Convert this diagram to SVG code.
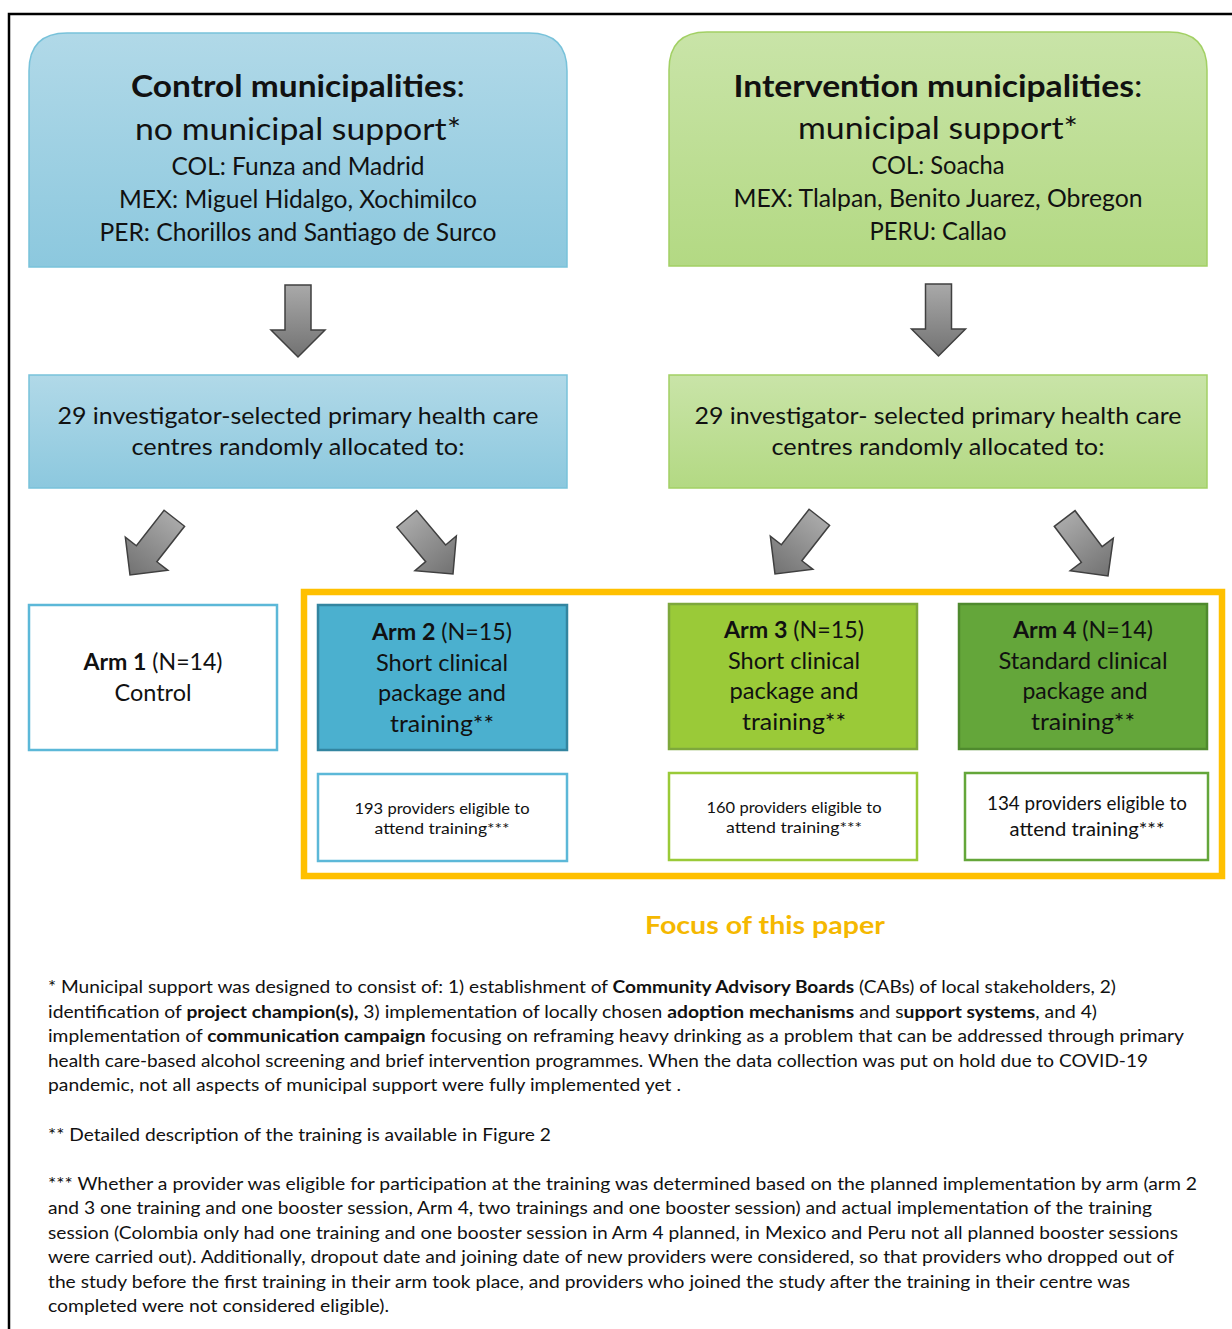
<svg xmlns="http://www.w3.org/2000/svg" width="1232" height="1329" viewBox="0 0 1232 1329">
<style>
text{font-family:Lato,"Open Sans","Liberation Sans",sans-serif;fill:#111}
.t{font-size:30px;text-anchor:middle}
.s{font-size:25px;text-anchor:middle}
.m{font-size:24px;text-anchor:middle}
.a{font-size:23px;text-anchor:middle}
.p{font-size:16px;text-anchor:middle}
.p4{font-size:18.5px;text-anchor:middle}
.fn{font-size:16.5px}
.b{font-weight:bold}
.arrow{fill:url(#ag);stroke:#404040;stroke-width:1.5;stroke-linejoin:miter}
</style>
<defs>
<linearGradient id="bg" x1="0" y1="0" x2="0" y2="1"><stop offset="0" stop-color="#b1d9e8"/><stop offset="1" stop-color="#8cc8de"/></linearGradient>
<linearGradient id="gg" x1="0" y1="0" x2="0" y2="1"><stop offset="0" stop-color="#c9e4a8"/><stop offset="1" stop-color="#b3d983"/></linearGradient>
<linearGradient id="ag" x1="0" y1="0" x2="0" y2="1"><stop offset="0" stop-color="#a9a9a9"/><stop offset="1" stop-color="#727272"/></linearGradient>
<polygon id="arr" class="arrow" points="-13,-72 13,-72 13,-27 27,-27 0,0 -27,-27 -13,-27"/>
</defs>
<rect width="1232" height="1329" fill="#fff"/>
<path d="M9,1329 V14 H1232" fill="none" stroke="#000" stroke-width="2.5"/>

<g id="control-municipalities">
<path d="M29,267 V71 Q29,33 67,33 H529 Q567,33 567,71 V267 Z" fill="url(#bg)" stroke="#78c2da" stroke-width="1.5"/>
<text class="t" x="298" y="97" textLength="334" lengthAdjust="spacingAndGlyphs"><tspan class="b">Control municipalities</tspan>:</text>
<text class="t" x="298" y="140" textLength="326" lengthAdjust="spacingAndGlyphs">no municipal support*</text>
<text class="s" x="298" y="175" textLength="253" lengthAdjust="spacingAndGlyphs">COL: Funza and Madrid</text>
<text class="s" x="298" y="208" textLength="358" lengthAdjust="spacingAndGlyphs">MEX: Miguel Hidalgo, Xochimilco</text>
<text class="s" x="298" y="241" textLength="397" lengthAdjust="spacingAndGlyphs">PER: Chorillos and Santiago de Surco</text>
</g>

<g id="intervention-municipalities">
<path d="M669,266 V70 Q669,32 707,32 H1169 Q1207,32 1207,70 V266 Z" fill="url(#gg)" stroke="#a2d064" stroke-width="1.5"/>
<text class="t" x="938" y="97" textLength="409" lengthAdjust="spacingAndGlyphs"><tspan class="b">Intervention municipalities</tspan>:</text>
<text class="t" x="938" y="139" textLength="280" lengthAdjust="spacingAndGlyphs">municipal support*</text>
<text class="s" x="938" y="174" textLength="133" lengthAdjust="spacingAndGlyphs">COL: Soacha</text>
<text class="s" x="938" y="207" textLength="409" lengthAdjust="spacingAndGlyphs">MEX: Tlalpan, Benito Juarez, Obregon</text>
<text class="s" x="938" y="240" textLength="137" lengthAdjust="spacingAndGlyphs">PERU: Callao</text>
</g>

<g id="control-centres">
<rect x="29" y="375" width="538" height="113" fill="url(#bg)" stroke="#78c2da" stroke-width="1.5"/>
<text class="m" x="298" y="424" textLength="481" lengthAdjust="spacingAndGlyphs">29 investigator-selected primary health care</text>
<text class="m" x="298" y="455" textLength="333" lengthAdjust="spacingAndGlyphs">centres randomly allocated to:</text>
</g>

<g id="intervention-centres">
<rect x="669" y="375" width="538" height="113" fill="url(#gg)" stroke="#a2d064" stroke-width="1.5"/>
<text class="m" x="938" y="424" textLength="487" lengthAdjust="spacingAndGlyphs">29 investigator- selected primary health care</text>
<text class="m" x="938" y="455" textLength="333" lengthAdjust="spacingAndGlyphs">centres randomly allocated to:</text>
</g>

<g id="connectors">
<use href="#arr" transform="translate(298,357)"/>
<use href="#arr" transform="translate(938.5,356)"/>
<use href="#arr" transform="translate(130,575) rotate(38)"/>
<use href="#arr" transform="translate(453,574) rotate(-40)"/>
<use href="#arr" transform="translate(775,574) rotate(38)"/>
<use href="#arr" transform="translate(1108,576) rotate(-37)"/>
</g>

<g id="focus-frame">
<rect x="304" y="592" width="918" height="284" fill="none" stroke="#ffc000" stroke-width="6.5"/>
<text x="765" y="934" font-size="25" font-weight="bold" text-anchor="middle" style="fill:#f5b800" textLength="240" lengthAdjust="spacingAndGlyphs">Focus of this paper</text>
</g>

<g id="arm1">
<rect x="29" y="605" width="248" height="145" fill="#fff" stroke="#5cb8d8" stroke-width="2.5"/>
<text class="a" x="153" y="670" textLength="139" lengthAdjust="spacingAndGlyphs"><tspan class="b">Arm 1</tspan> (N=14)</text>
<text class="a" x="153" y="701" textLength="77" lengthAdjust="spacingAndGlyphs">Control</text>
</g>

<g id="arm2">
<rect x="318" y="605" width="249" height="145" fill="#4bb0cf" stroke="#3385a0" stroke-width="2.5"/>
<text class="a" x="442" y="640" textLength="140" lengthAdjust="spacingAndGlyphs"><tspan class="b">Arm 2</tspan> (N=15)</text>
<text class="a" x="442" y="671" textLength="132" lengthAdjust="spacingAndGlyphs">Short clinical</text>
<text class="a" x="442" y="701" textLength="128" lengthAdjust="spacingAndGlyphs">package and</text>
<text class="a" x="442" y="732" textLength="104" lengthAdjust="spacingAndGlyphs">training**</text>
</g>

<g id="arm3">
<rect x="669" y="604" width="248" height="145" fill="#9aca38" stroke="#7ea83c" stroke-width="2.5"/>
<text class="a" x="794" y="638" textLength="140" lengthAdjust="spacingAndGlyphs"><tspan class="b">Arm 3</tspan> (N=15)</text>
<text class="a" x="794" y="669" textLength="132" lengthAdjust="spacingAndGlyphs">Short clinical</text>
<text class="a" x="794" y="699" textLength="129" lengthAdjust="spacingAndGlyphs">package and</text>
<text class="a" x="794" y="730" textLength="104" lengthAdjust="spacingAndGlyphs">training**</text>
</g>

<g id="arm4">
<rect x="959" y="604" width="248" height="145" fill="#64a63a" stroke="#4f8a2e" stroke-width="2.5"/>
<text class="a" x="1083" y="638" textLength="140" lengthAdjust="spacingAndGlyphs"><tspan class="b">Arm 4</tspan> (N=14)</text>
<text class="a" x="1083" y="669" textLength="169" lengthAdjust="spacingAndGlyphs">Standard clinical</text>
<text class="a" x="1085" y="699" textLength="125" lengthAdjust="spacingAndGlyphs">package and</text>
<text class="a" x="1083" y="730" textLength="104" lengthAdjust="spacingAndGlyphs">training**</text>
</g>

<g id="providers-arm2">
<rect x="318" y="774" width="249" height="87" fill="#fff" stroke="#5cb8d8" stroke-width="2.5"/>
<text class="p" x="442" y="814" textLength="175" lengthAdjust="spacingAndGlyphs">193 providers eligible to</text>
<text class="p" x="442" y="834" textLength="135" lengthAdjust="spacingAndGlyphs">attend training***</text>
</g>

<g id="providers-arm3">
<rect x="669" y="773" width="248" height="87" fill="#fff" stroke="#9aca38" stroke-width="2.5"/>
<text class="p" x="794" y="813" textLength="175" lengthAdjust="spacingAndGlyphs">160 providers eligible to</text>
<text class="p" x="794" y="833" textLength="136" lengthAdjust="spacingAndGlyphs">attend training***</text>
</g>

<g id="providers-arm4">
<rect x="965" y="773" width="243" height="87" fill="#fff" stroke="#64a63a" stroke-width="2.5"/>
<text class="p4" x="1087" y="810" textLength="200" lengthAdjust="spacingAndGlyphs">134 providers eligible to</text>
<text class="p4" x="1087" y="836" textLength="155" lengthAdjust="spacingAndGlyphs">attend training***</text>
</g>

<g id="footnotes">
<text class="fn" x="48" y="993" textLength="1068" lengthAdjust="spacingAndGlyphs">* Municipal support was designed to consist of: 1) establishment of <tspan class="b">Community Advisory Boards</tspan> (CABs) of local stakeholders, 2)</text>
<text class="fn" x="48" y="1018" textLength="1049" lengthAdjust="spacingAndGlyphs">identification of <tspan class="b">project champion(s),</tspan> 3) implementation of locally chosen <tspan class="b">adoption mechanisms</tspan> and s<tspan class="b">upport systems</tspan>, and 4)</text>
<text class="fn" x="48" y="1042" textLength="1136" lengthAdjust="spacingAndGlyphs">implementation of <tspan class="b">communication campaign</tspan> focusing on reframing heavy drinking as a problem that can be addressed through primary</text>
<text class="fn" x="48" y="1067" textLength="1100" lengthAdjust="spacingAndGlyphs">health care-based alcohol screening and brief intervention programmes. When the data collection was put on hold due to COVID-19</text>
<text class="fn" x="48" y="1091" textLength="633" lengthAdjust="spacingAndGlyphs">pandemic, not all aspects of municipal support were fully implemented yet .</text>
<text class="fn" x="48" y="1141" textLength="503" lengthAdjust="spacingAndGlyphs">** Detailed description of the training is available in Figure 2</text>
<text class="fn" x="48" y="1190" textLength="1149" lengthAdjust="spacingAndGlyphs">*** Whether a provider was eligible for participation at the training was determined based on the planned implementation by arm (arm 2</text>
<text class="fn" x="48" y="1214" textLength="1104" lengthAdjust="spacingAndGlyphs">and 3 one training and one booster session, Arm 4, two trainings and one booster session) and actual implementation of the training</text>
<text class="fn" x="48" y="1239" textLength="1130" lengthAdjust="spacingAndGlyphs">session (Colombia only had one training and one booster session in Arm 4 planned, in Mexico and Peru not all planned booster sessions</text>
<text class="fn" x="48" y="1263" textLength="1126" lengthAdjust="spacingAndGlyphs">were carried out). Additionally, dropout date and joining date of new providers were considered, so that providers who dropped out of</text>
<text class="fn" x="48" y="1288" textLength="1082" lengthAdjust="spacingAndGlyphs">the study before the first training in their arm took place, and providers who joined the study after the training in their centre was</text>
<text class="fn" x="48" y="1312" textLength="341" lengthAdjust="spacingAndGlyphs">completed were not considered eligible).</text>
</g>
</svg>
